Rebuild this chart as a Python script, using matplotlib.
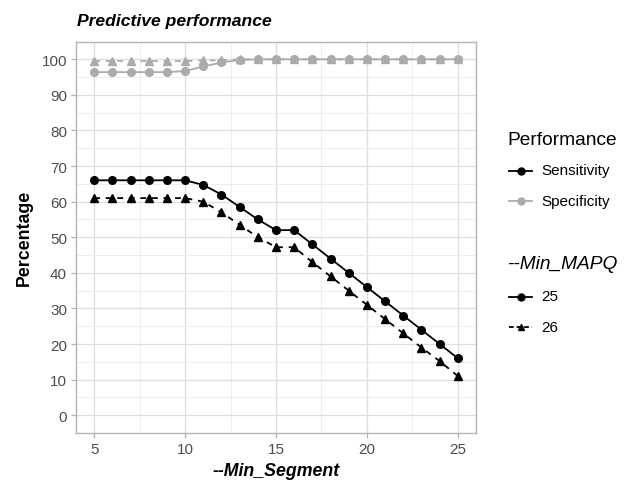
import numpy as np
import matplotlib
matplotlib.use('Agg')
import matplotlib.pyplot as plt
from matplotlib.lines import Line2D
from matplotlib.ticker import MultipleLocator

plt.rcParams['font.family'] = ['Liberation Sans', 'DejaVu Sans']

# data
min_segment = np.arange(5, 26)
sens_25 = [66, 66, 66, 66, 66, 66, 64.7, 62, 58.5, 55, 52, 52, 48, 44, 40, 36, 32, 28, 24, 20, 16]
sens_26 = [61, 61, 61, 61, 61, 61, 60, 57, 53.5, 50, 47.2, 47.2, 43, 39, 35, 31, 27, 23, 19, 15.2, 11]
spec_25 = [96.4, 96.4, 96.4, 96.4, 96.4, 96.7, 98, 99.1, 99.8, 100, 100, 100, 100, 100, 100, 100, 100, 100, 100, 100, 100]
spec_26 = [99.5, 99.5, 99.5, 99.5, 99.5, 99.5, 99.7, 99.7, 100, 100, 100, 100, 100, 100, 100, 100, 100, 100, 100, 100, 100]

perf_labels = ['Sensitivity', 'Specificity']
mapq_labels = ['25', '26']

black = '#000000'
grey = '#ABABAB'
lw = 1.3
ms = 5.5
dash = (3.2, 3.2)

W, H = 629, 481
fig = plt.figure(figsize=(W / 100, H / 100), dpi=100)
ax = fig.add_axes([76 / W, 1 - 434 / H, 400 / W, 391.5 / H])

ax.plot(min_segment, sens_25, color=black, linestyle='-', linewidth=lw, marker='o', markersize=ms)
ax.plot(min_segment, sens_26, color=black, linestyle='--', dashes=dash, linewidth=lw, marker='^', markersize=ms + 0.8)
ax.plot(min_segment, spec_25, color=grey, linestyle='-', linewidth=lw, marker='o', markersize=ms)
ax.plot(min_segment, spec_26, color=grey, linestyle='--', dashes=dash, linewidth=lw, marker='^', markersize=ms + 0.8)

ax.set_xlim(4, 26)
ax.set_ylim(-5, 105)
ax.xaxis.set_major_locator(MultipleLocator(5))
ax.xaxis.set_minor_locator(MultipleLocator(2.5))
ax.yaxis.set_major_locator(MultipleLocator(10))
ax.yaxis.set_minor_locator(MultipleLocator(5))

ax.grid(which='major', color='#DEDEDE', linewidth=0.9)
ax.grid(which='minor', color='#EBEBEB', linewidth=0.6)
ax.set_axisbelow(True)
for s in ax.spines.values():
    s.set_color('#B3B3B3')
    s.set_linewidth(1.0)
ax.tick_params(which='major', colors='#B3B3B3', length=3.5, width=0.9, labelcolor='#4D4D4D', labelsize=11, pad=3)
ax.tick_params(which='minor', length=0)

ax.set_xlabel('--Min_Segment', fontsize=12.8, fontweight='bold', fontstyle='italic', labelpad=4)
ax.set_ylabel('Percentage', fontsize=12.8, fontweight='bold', labelpad=6)
fig.text(77 / W, 1 - 26 / H, 'Predictive performance', fontsize=12.6, fontweight='bold', fontstyle='italic', ha='left', va='baseline')


# legends drawn by hand, ggplot style
def fy(py):
    return 1 - py / H


def legend_block(title, labels, title_y, first_y, styles, markers, italic=False):
    fig.text(507 / W, fy(title_y), title, fontsize=13.8, fontstyle='italic' if italic else 'normal',
             ha='left', va='center')
    for i, (lab, st, mk) in enumerate(zip(labels, styles, markers)):
        y = fy(first_y + 30.5 * i)
        fig.add_artist(Line2D([509 / W, 532 / W], [y, y], transform=fig.transFigure, **st))
        fig.add_artist(Line2D([520.5 / W], [y], transform=fig.transFigure, linestyle='none',
                              marker=mk, color=st['color'], markersize=ms - 0.5))
        fig.text(541 / W, y, lab, fontsize=11, ha='left', va='center')


legend_block('Performance', perf_labels, 141, 171.5,
             [dict(color=black, linewidth=lw), dict(color=grey, linewidth=lw)], ['o', 'o'])
legend_block('--Min_MAPQ', mapq_labels, 265, 297.5,
             [dict(color=black, linewidth=lw),
              dict(color=black, linewidth=lw, linestyle='--', dashes=(2.6, 1.6))], ['o', '^'],
             italic=True)

fig.savefig('out.png', dpi=100)
